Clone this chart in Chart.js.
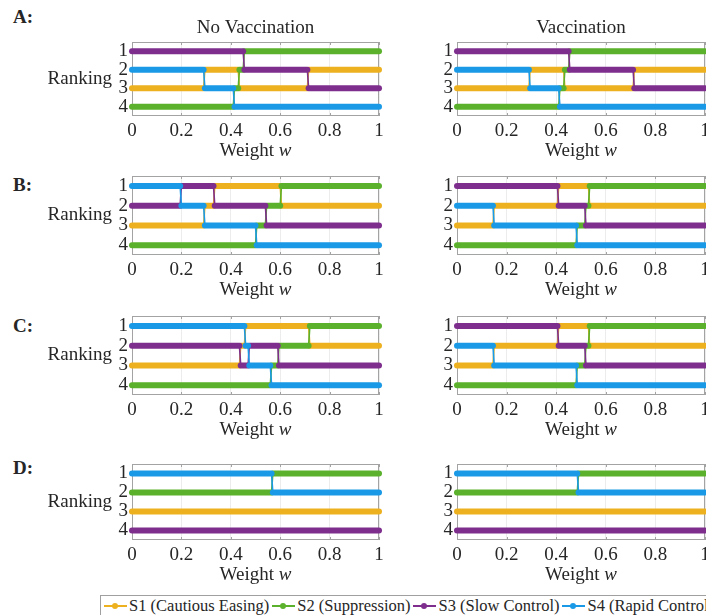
<!DOCTYPE html>
<html>
<head>
<meta charset="utf-8">
<script src="https://cdn.jsdelivr.net/npm/chart.js@4.4.1/dist/chart.umd.min.js"></script>
<style>
  html, body { margin: 0; padding: 0; background: #fff; }
  body { width: 706px; height: 615px; position: relative; overflow: hidden;
         font-family: "Liberation Serif", serif; color: #262626; }
  canvas { position: absolute; }
  .tag { position: absolute; left: 13px; font-weight: bold; font-size: 19px; line-height: 20px; }
  #legend { position: absolute; left: 100px; top: 595px; width: 640px; height: 30px;
            border: 1px solid #a0a0a0; box-sizing: border-box; background: #fff;
            display: flex; align-items: flex-start; padding: 0 0 0 3px; font-size: 16.5px; line-height: 20px; white-space: nowrap; }
  #legend .item { display: inline-flex; align-items: center; margin-right: 3px; }
  #legend .mk { display: inline-block; width: 23px; height: 2px; position: relative; margin-right: 2px; }
  #legend .mk::after { content: ""; position: absolute; left: 8px; top: -2px; width: 6px; height: 6px;
                        border-radius: 50%; background: inherit; }
</style>
</head>
<body>
<div id="legend"></div>
<script>
const weightTicks = [0, 0.2, 0.4, 0.6, 0.8, 1];
const rankTicks = [1, 2, 3, 4];
const strategyNames = ["S1 (Cautious Easing)", "S2 (Suppression)", "S3 (Slow Control)", "S4 (Rapid Control)"];
const columnTitles = ["No Vaccination", "Vaccination"];
const panelTags = ["A:", "B:", "C:", "D:"];

// each strategy: list of [w from, w to, rank]
const panelANoVac = [
  [[0, 0.29, 3], [0.295, 0.43, 2], [0.435, 0.71, 3], [0.715, 1, 2]],
  [[0, 0.41, 4], [0.415, 0.43, 3], [0.435, 0.45, 2], [0.455, 1, 1]],
  [[0, 0.45, 1], [0.455, 0.71, 2], [0.715, 1, 3]],
  [[0, 0.29, 2], [0.295, 0.41, 3], [0.415, 1, 4]]
];
const panelAVac = [
  [[0, 0.29, 3], [0.295, 0.43, 2], [0.435, 0.71, 3], [0.715, 1, 2]],
  [[0, 0.41, 4], [0.415, 0.43, 3], [0.435, 0.45, 2], [0.455, 1, 1]],
  [[0, 0.45, 1], [0.455, 0.71, 2], [0.715, 1, 3]],
  [[0, 0.29, 2], [0.295, 0.41, 3], [0.415, 1, 4]]
];
const panelBNoVac = [
  [[0, 0.29, 3], [0.295, 0.33, 2], [0.335, 0.6, 1], [0.605, 1, 2]],
  [[0, 0.5, 4], [0.505, 0.54, 3], [0.545, 0.6, 2], [0.605, 1, 1]],
  [[0, 0.195, 2], [0.2, 0.33, 1], [0.335, 0.54, 2], [0.545, 1, 3]],
  [[0, 0.195, 1], [0.2, 0.29, 2], [0.295, 0.5, 3], [0.505, 1, 4]]
];
const panelBVac = [
  [[0, 0.145, 3], [0.15, 0.405, 2], [0.41, 0.53, 1], [0.535, 1, 2]],
  [[0, 0.48, 4], [0.485, 0.515, 3], [0.52, 0.53, 2], [0.535, 1, 1]],
  [[0, 0.405, 1], [0.41, 0.515, 2], [0.52, 1, 3]],
  [[0, 0.145, 2], [0.15, 0.48, 3], [0.485, 1, 4]]
];
const panelCNoVac = [
  [[0, 0.435, 3], [0.44, 0.455, 2], [0.46, 0.715, 1], [0.72, 1, 2]],
  [[0, 0.56, 4], [0.565, 0.59, 3], [0.595, 0.715, 2], [0.72, 1, 1]],
  [[0, 0.435, 2], [0.44, 0.47, 3], [0.475, 0.59, 2], [0.595, 1, 3]],
  [[0, 0.455, 1], [0.46, 0.47, 2], [0.475, 0.56, 3], [0.565, 1, 4]]
];
const panelCVac = [
  [[0, 0.145, 3], [0.15, 0.405, 2], [0.41, 0.53, 1], [0.535, 1, 2]],
  [[0, 0.48, 4], [0.485, 0.515, 3], [0.52, 0.53, 2], [0.535, 1, 1]],
  [[0, 0.405, 1], [0.41, 0.515, 2], [0.52, 1, 3]],
  [[0, 0.145, 2], [0.15, 0.48, 3], [0.485, 1, 4]]
];
const panelDNoVac = [
  [[0, 1, 3]],
  [[0, 0.565, 2], [0.57, 1, 1]],
  [[0, 1, 4]],
  [[0, 0.565, 1], [0.57, 1, 2]]
];
const panelDVac = [
  [[0, 1, 3]],
  [[0, 0.485, 2], [0.49, 1, 1]],
  [[0, 1, 4]],
  [[0, 0.485, 1], [0.49, 1, 2]]
];

const panels = [
  [panelANoVac, panelAVac],
  [panelBNoVac, panelBVac],
  [panelCNoVac, panelCVac],
  [panelDNoVac, panelDVac]
];

const seriesColors = ["#EDB120", "#5BB12B", "#7E2F8E", "#1A9AE6"];
const textColor = "#262626";
const fontFamily = "'Liberation Serif', serif";

// layout (pixels)
const rowBoxes = [[42, 116], [176, 255], [316, 395], [464, 540]];
const tagY = [17, 185, 326, 468];
const cols = [
  { left: 0, width: 400, areaLeft: 132, areaRight: 379 },
  { left: 400, width: 330, areaLeft: 457, areaRight: 705 }
];
const yAxisWidth = 24;

const panelDecor = {
  id: "panelDecor",
  beforeDatasetsDraw(chart) {
    const { ctx, chartArea: a, scales } = chart;
    ctx.save();
    ctx.strokeStyle = "#a3a3a3";
    ctx.lineWidth = 1;
    ctx.beginPath();
    weightTicks.forEach(v => {
      const px = Math.round(scales.x.getPixelForValue(v)) + 0.5;
      ctx.moveTo(px, a.bottom); ctx.lineTo(px, a.bottom - 3);
      ctx.moveTo(px, a.top); ctx.lineTo(px, a.top + 3);
    });
    rankTicks.forEach(v => {
      const py = Math.round(scales.y.getPixelForValue(v)) + 0.5;
      ctx.moveTo(a.left, py); ctx.lineTo(a.left + 3, py);
      ctx.moveTo(a.right, py); ctx.lineTo(a.right - 3, py);
    });
    ctx.stroke();
    ctx.strokeRect(a.left + 0.5, a.top + 0.5, a.right - a.left - 1, a.bottom - a.top - 1);
    ctx.restore();
  },
  afterDraw(chart, args, opts) {
    const { ctx, chartArea: a } = chart;
    ctx.save();
    ctx.fillStyle = textColor;
    ctx.textBaseline = "middle";
    ctx.font = "19px " + fontFamily;
    const cx = (a.left + a.right) / 2;
    if (opts.title) {
      ctx.textAlign = "center";
      ctx.fillText(opts.title, cx, a.top - 14);
    }
    if (opts.ylabel) {
      ctx.textAlign = "right";
      ctx.fillText(opts.ylabel, a.left - 20, (a.top + a.bottom) / 2);
    }
    ctx.textAlign = "left";
    const w1 = ctx.measureText("Weight ").width;
    ctx.font = "italic 19px " + fontFamily;
    const w2 = ctx.measureText("w").width;
    const sx = cx - (w1 + w2) / 2;
    ctx.font = "19px " + fontFamily;
    ctx.fillText("Weight ", sx, a.bottom + 35);
    ctx.font = "italic 19px " + fontFamily;
    ctx.fillText("w", sx + w1, a.bottom + 35);
    ctx.restore();
  }
};

function toPoints(segments) {
  const pts = [];
  segments.forEach(([from, to, rank]) => {
    pts.push({ x: from, y: rank });
    pts.push({ x: to, y: rank });
  });
  return pts;
}

function makeChart(row, col) {
  const [boxTop, boxBottom] = rowBoxes[row];
  const c = cols[col];
  const padTop = 40, axisH = 50;
  const height = boxBottom - boxTop + padTop + axisH;
  const canvas = document.createElement("canvas");
  canvas.width = c.width;
  canvas.height = height;
  canvas.style.left = c.left + "px";
  canvas.style.top = (boxTop - padTop) + "px";
  canvas.style.width = c.width + "px";
  canvas.style.height = height + "px";
  document.body.appendChild(canvas);

  const data = panels[row][col];
  const datasets = data.map((segs, i) => ({
    label: strategyNames[i],
    data: toPoints(segs),
    borderColor: seriesColors[i],
    backgroundColor: seriesColors[i],
    borderWidth: 6,
    borderCapStyle: "round",
    borderJoinStyle: "round",
    pointRadius: 0,
    tension: 0,
    clip: false,
    order: 4 - i,
    segment: {
      borderWidth: ctx => (ctx.p0.parsed.y !== ctx.p1.parsed.y ? 1.6 : 6)
    }
  }));

  const tickFont = { family: fontFamily, size: 19 };
  new Chart(canvas.getContext("2d"), {
    type: "line",
    data: { datasets },
    options: {
      responsive: false,
      animation: false,
      devicePixelRatio: 1,
      layout: {
        padding: {
          left: c.areaLeft - c.left - yAxisWidth,
          right: c.left + c.width - c.areaRight,
          top: padTop,
          bottom: 0
        }
      },
      plugins: {
        legend: { display: false },
        tooltip: { enabled: false },
        panelDecor: {
          title: row === 0 ? columnTitles[col] : "",
          ylabel: col === 0 ? "Ranking" : ""
        }
      },
      scales: {
        x: {
          type: "linear",
          min: 0,
          max: 1,
          afterBuildTicks: s => { s.ticks = weightTicks.map(v => ({ value: v })); },
          afterFit: s => { s.height = axisH; },
          grid: { color: "#ececec", drawTicks: false },
          border: { display: false },
          ticks: { padding: 4, color: textColor, font: tickFont, maxRotation: 0, autoSkip: false,
                   callback: v => String(v) }
        },
        y: {
          type: "linear",
          min: 0.5,
          max: 4.5,
          reverse: true,
          afterBuildTicks: s => { s.ticks = rankTicks.map(v => ({ value: v })); },
          afterFit: s => { s.width = yAxisWidth; },
          grid: { color: "#ececec", drawTicks: false },
          border: { display: false },
          ticks: { padding: 4, color: textColor, font: tickFont, autoSkip: false,
                   callback: v => String(v) }
        }
      }
    },
    plugins: [panelDecor]
  });
}

panelTags.forEach((t, i) => {
  const d = document.createElement("div");
  d.className = "tag";
  d.textContent = t;
  d.style.top = (tagY[i] - 10) + "px";
  document.body.appendChild(d);
});

for (let r = 0; r < 4; r++) {
  for (let c = 0; c < 2; c++) makeChart(r, c);
}

const legend = document.getElementById("legend");
strategyNames.forEach((name, i) => {
  const item = document.createElement("span");
  item.className = "item";
  const mk = document.createElement("span");
  mk.className = "mk";
  mk.style.background = seriesColors[i];
  item.appendChild(mk);
  item.appendChild(document.createTextNode(name));
  legend.appendChild(item);
});
document.body.appendChild(legend);
</script>
</body>
</html>
